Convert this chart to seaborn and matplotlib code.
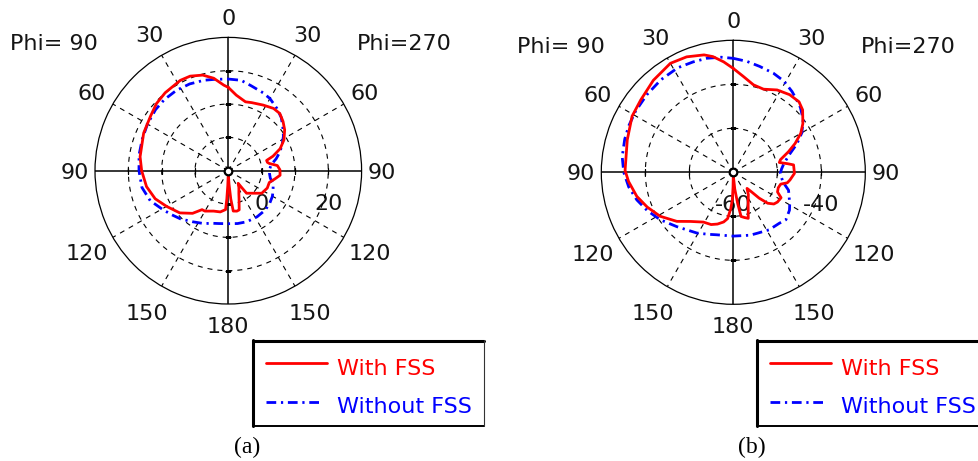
import numpy as np
import matplotlib
matplotlib.use("Agg")
import matplotlib.pyplot as plt
import seaborn as sns
from matplotlib.lines import Line2D

# ---- radiation patterns: angle (deg, clockwise from top) and gain (dB) ----
a_with_theta = [0, 6, 14, 19, 28, 36, 42, 48, 54, 61, 67, 72, 75, 78, 80, 84, 89, 95, 100, 106,
                114, 124, 132, 141, 141.5, 142, 148, 155, 159, 162, 164.5, 168, 173, 175, 177, 180,
                182, 183, 184, 191, 200, 210, 214, 220, 229, 240, 249, 259, 270, 279, 294, 305,
                313, 321, 332, 338, 345, 351, 357]
a_with_gain = [15.0, 12.8, 11.3, 11.6, 12.3, 13.1, 13.1, 12.1, 10.9, 9.1, 6.9, 4.1, 1.9, 2.0, 2.5,
               4.8, 5.5, 5.6, 4.2, 2.8, 2.8, 2.1, 0.1, -1.3, -3.5, -5.2, -4.0, -2.5, -1.0, 0.5,
               2.2, 2.4, 2.2, -1.5, -6.0, -9.2, -5.5, -1.5, 1.7, 2.6, 2.9, 4.0, 4.1, 6.7, 9.3,
               11.4, 13.5, 15.0, 16.0, 16.8, 17.8, 18.5, 19.5, 20.1, 20.7, 20.6, 19.7, 18.1, 15.7]
a_without_theta = [0, 8, 15, 24, 30, 38, 45, 52, 58, 63, 70, 76, 82, 88, 94, 100, 106, 112, 120,
                   128, 137, 148, 160, 170, 180, 190, 197, 205, 215, 225, 232, 239, 249, 259, 270,
                   280, 290, 300, 310, 318, 327, 336, 345, 352]
a_without_gain = [17.5, 17.4, 16.4, 15.6, 15.0, 13.7, 12.5, 10.8, 9.5, 8.2, 6.5, 4.8, 3.0, 2.4,
                  2.4, 2.8, 4.0, 4.5, 5.3, 5.8, 6.2, 6.3, 6.3, 6.1, 5.9, 6.1, 6.5, 7.5, 8.7, 10.4,
                  11.5, 12.8, 15.1, 16.4, 16.8, 17.2, 17.5, 18.0, 18.5, 18.7, 18.7, 18.5, 18.1, 17.7]

b_with_theta = [0, 6, 13, 20, 28, 36, 43, 48, 55, 60, 65, 69.5, 75, 78, 81, 83, 91, 97.7, 101, 104,
                109, 114, 118, 124, 128, 132, 135, 137, 139.5, 146, 156, 162, 166, 170, 172, 175,
                178, 180, 181, 182, 184, 187, 191, 197, 203, 211, 221, 229, 239, 248, 256, 265,
                271, 287, 299, 308, 319, 330, 338, 346, 350, 355]
b_with_gain = [-36.4, -38.1, -39.6, -39.9, -38.8, -38.2, -38.1, -38.8, -40.7, -42.3, -44.5, -46.6,
               -48.9, -49.3, -47.5, -46.2, -46.1, -47.0, -47.5, -48.9, -49.2, -49.0, -47.7, -47.9,
               -48.3, -49.5, -51.7, -53.9, -55.2, -53.9, -51.7, -49.0, -49.4, -49.8, -52.8, -56.2,
               -58.9, -59.4, -56.6, -53.7, -51.7, -49.4, -48.5, -47.7, -47.1, -46.8, -45.2, -43.0,
               -40.6, -38.9, -37.4, -36.1, -35.4, -34.8, -33.7, -33.3, -32.3, -31.4, -31.7, -32.5,
               -33.3, -34.8]
b_without_theta = [0, 7, 14, 22, 29, 36, 41, 46, 53, 60, 66, 72, 80, 86, 91, 96, 101, 108, 114, 120,
                   124, 132, 138, 148, 158, 165, 180, 195, 202, 211, 226, 237, 246, 254, 262, 270,
                   278, 287, 294, 302, 312, 322, 332, 340, 347, 354]
b_without_gain = [-34.1, -34.6, -35.2, -35.7, -36.3, -37.3, -38.1, -38.8, -40.1, -42.0, -44.2, -46.5,
                  -48.3, -49.0, -49.3, -49.0, -48.5, -46.8, -46.1, -45.2, -44.6, -43.9, -44.4, -44.6,
                  -45.1, -45.2, -45.5, -45.3, -44.8, -43.9, -42.2, -40.2, -38.6, -37.2, -36.0, -35.1,
                  -34.5, -34.2, -34.0, -33.8, -33.6, -33.3, -33.1, -33.3, -33.4, -33.7]

angle_ticks = [0, 30, 60, 90, 120, 150, 180, 210, 240, 270, 300, 330]
angle_labels = ["0", "30", "60", "90", "120", "150", "180", "150", "120", "90", "60", "30"]
a_scale = (-10, 30, 10)          # centre, outer ring, ring step (dB)
b_scale = (-60, -30, 10)
a_ring_labels = [0, 20]
b_ring_labels = [-60, -40]
series_names = ["With FSS", "Without FSS"]
captions = ["(a)", "(b)"]

# ---- styling ----
sns.set_style("white")
plt.rcParams["font.family"] = ["DejaVu Sans"]
plt.rcParams["lines.scale_dashes"] = False
RED, BLUE = "#ff0000", "#0000ff"
red_kw = dict(color=RED, linewidth=2.0, linestyle="-")
blue_kw = dict(color=BLUE, linewidth=2.0, linestyle=(0, (7, 3.4, 1.6, 3.4)))
grid_ls = (0, (3.6, 3.6))
FS = 16

W, H = 979, 461
fig = plt.figure(figsize=(W / 100, H / 100), dpi=100)


def polar_panel(cx, cy, R, scale, ring_labels, with_t, with_g, without_t, without_g):
    rmin, rmax, step = scale
    ax = fig.add_axes([(cx - R) / W, 1 - (cy + R) / H, 2 * R / W, 2 * R / H],
                      projection="polar")
    ax.set_theta_zero_location("N")
    ax.set_theta_direction(-1)
    ax.set_facecolor("none")

    # pattern curves (closed)
    for t, g, kw in ((without_t, without_g, blue_kw), (with_t, with_g, red_kw)):
        th = np.deg2rad(list(t) + [360])
        gg = list(g) + [g[0]]
        sns.lineplot(x=th, y=gg, ax=ax, sort=False, zorder=5, **kw)

    ax.set_ylim(rmin, rmax)
    ax.grid(False)
    ax.set_xticks([])
    ax.set_yticks([])
    ax.set_xlabel("")
    ax.set_ylabel("")
    ax.spines["polar"].set_color("black")
    ax.spines["polar"].set_linewidth(0.9)

    full = np.linspace(0, 2 * np.pi, 721)
    rings = np.arange(rmin + step, rmax, step)
    for r in rings:
        ax.plot(full, np.full_like(full, r), color="black", lw=0.8, ls=grid_ls, zorder=2)
    for a in angle_ticks:
        if a % 90:
            ax.plot([np.deg2rad(a)] * 2, [rmin, rmax], color="black", lw=0.8, ls=grid_ls, zorder=2)
        else:
            ax.plot([np.deg2rad(a)] * 2, [rmin, rmax], color="black", lw=1.1, zorder=3)
    # small ticks on the cross axes at each ring
    for r in rings:
        ax.plot(np.deg2rad([90, 270]), [r, r], ls="none", marker="|", ms=5, mew=0.9,
                color="black", zorder=3)
        ax.plot(np.deg2rad([0, 180]), [r, r], ls="none", marker="_", ms=5, mew=0.9,
                color="black", zorder=3)
    ax.plot([0], [rmin], ls="none", marker="o", ms=5.5, mfc="white", mec="black", mew=1.6,
            zorder=7, clip_on=False)

    # angle labels around the outside
    for a, lab in zip(angle_ticks, angle_labels):
        f = 1.225 if lab in ("120", "150") else (1.155 if lab in ("0", "180", "90") else 1.185)
        ax.annotate(lab, xy=(np.deg2rad(a), rmin + f * (rmax - rmin)), xytext=(0, -5.8),
                    textcoords="offset points", ha="center", va="baseline", fontsize=FS,
                    color="#151515", annotation_clip=False)
    # ring value labels
    for v in ring_labels:
        ax.annotate(str(v), xy=(np.deg2rad(90), v), xytext=(0, -28.0),
                    textcoords="offset points", ha="center", va="baseline", fontsize=FS,
                    color="#151515", annotation_clip=False, zorder=1)
    return ax


polar_panel(228.3, 170.7, 133.3, a_scale, a_ring_labels,
            a_with_theta, a_with_gain, a_without_theta, a_without_gain)
polar_panel(733.3, 172.3, 132.0, b_scale, b_ring_labels,
            b_with_theta, b_with_gain, b_without_theta, b_without_gain)

# ---- overlay in pixel coordinates: phi labels, legends, captions ----
ov = fig.add_axes([0, 0, 1, 1], zorder=-1)
ov.set_xlim(0, W)
ov.set_ylim(H, 0)
ov.axis("off")

for x, y, s in ((54, 49.5, "Phi= 90"), (404, 49.5, "Phi=270"),
                (561, 53, "Phi= 90"), (908, 53, "Phi=270")):
    ov.text(x, y, s, ha="center", va="baseline", fontsize=FS, color="#151515")

for x0, x1 in ((253, 484.3), (757, 990)):
    ov.add_line(Line2D([x0, x1], [340.5, 340.5], color="black", lw=2.2, clip_on=False))
    ov.add_line(Line2D([x0, x0], [339.5, 426], color="black", lw=2.2))
    ov.add_line(Line2D([x0, x1], [425.5, 425.5], color="black", lw=1.4, clip_on=False))
    if x1 < W:
        ov.add_line(Line2D([x1, x1], [339.5, 426], color="#333333", lw=0.8))
    lx = x0 + 13.5
    ov.add_line(Line2D([lx, lx + 61], [363.3, 363.3], **red_kw))
    ov.add_line(Line2D([lx, lx + 56], [401.7, 401.7], **blue_kw))
    ov.text(x0 + 84, 375, series_names[0], ha="left", va="baseline", fontsize=FS, color=RED)
    ov.text(x0 + 84, 413.3, series_names[1], ha="left", va="baseline", fontsize=FS, color=BLUE)

for x, s in ((247.5, captions[0]), (752, captions[1])):
    ov.text(x, 447, s, ha="center", va="center", fontsize=17, color="black",
            family=["Liberation Serif", "DejaVu Serif"])

fig.savefig("out.png", dpi=100)
